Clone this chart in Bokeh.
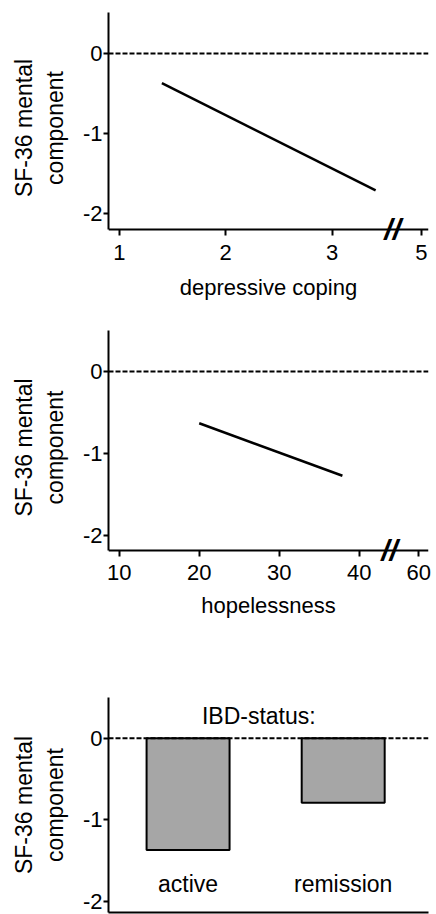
from bokeh.plotting import figure
from bokeh.layouts import column
from bokeh.models import Span, Label, FixedTicker, ColumnDataSource, LinearAxis
from bokeh.embed import file_html
from bokeh.resources import INLINE
from bokeh.core.properties import value

# ---------------- data ----------------
y_ticks = [-2, -1, 0]
y_tick_labels = ["-2", "-1", "0"]
y_label = "SF-36 mental\ncomponent"

coping_ticks = [1, 2, 3, 5]
coping_x = [1.4, 3.41]
coping_y = [-0.37, -1.71]

hope_ticks = [10, 20, 30, 40, 60]
hope_x = [20.0, 37.9]
hope_y = [-0.63, -1.27]

status_title = "IBD-status:"
status = ["active", "remission"]
status_vals = [-1.37, -0.79]

FONT = "Liberation Sans"
TICK_FS = "22px"
LABEL_FS = "22px"


def style_axis(ax):
    ax.axis_line_width = 2
    ax.axis_line_color = "black"
    ax.major_tick_line_width = 2
    ax.major_tick_line_color = "black"
    ax.major_tick_in = 0
    ax.major_tick_out = 6
    ax.minor_tick_line_color = None
    ax.major_label_text_font = FONT
    ax.major_label_text_font_size = TICK_FS
    ax.major_label_text_color = "black"
    ax.axis_label_text_font = FONT
    ax.axis_label_text_font_size = LABEL_FS
    ax.axis_label_text_font_style = "normal"
    ax.axis_label_text_color = "black"


def base_style(p):
    p.background_fill_color = "white"
    p.border_fill_color = "white"
    p.outline_line_color = None
    p.xgrid.visible = False
    p.ygrid.visible = False
    style_axis(p.xaxis[0])
    style_axis(p.yaxis[0])
    p.yaxis[0].ticker = FixedTicker(ticks=y_ticks)
    p.yaxis[0].major_label_overrides = {t: s for t, s in zip(y_ticks, y_tick_labels)}
    p.yaxis[0].major_label_standoff = 1
    p.yaxis[0].major_tick_out = 5
    p.yaxis[0].axis_label = y_label
    p.yaxis[0].axis_label_text_font_size = "23px"
    p.yaxis[0].axis_label_standoff = 12
    p.add_layout(Span(location=0, dimension="width", line_color="black",
                      line_width=2, line_dash="5 2"))


def broken_x_axis(p, ticks, last_pos, y_axis_pos, y_top, brk_x, label,
                  label_standoff, tick_standoff):
    """Axis line + ticks drawn inside the frame at y_axis_pos (so the break
    mark can straddle it); tick labels and title on a second, line-less axis."""
    pos = [float(t) for t in ticks[:-1]] + [last_pos]
    overrides = {pos[i]: str(ticks[i]) for i in range(len(ticks))}
    main = p.xaxis[0]
    main.fixed_location = y_axis_pos
    main.ticker = FixedTicker(ticks=pos)
    main.major_label_text_font_size = "0px"
    main.major_label_text_color = None
    p.yaxis[0].bounds = (y_axis_pos, y_top)

    lab = LinearAxis(ticker=FixedTicker(ticks=pos))
    style_axis(lab)
    lab.axis_line_color = None
    lab.major_tick_line_color = None
    lab.major_tick_out = 0
    lab.major_label_standoff = tick_standoff
    lab.major_label_overrides = overrides
    lab.axis_label = label
    lab.axis_label_standoff = label_standoff
    p.add_layout(lab, "below")

    p.add_layout(Label(x=brk_x, y=y_axis_pos, text="//", text_font=FONT,
                       text_font_size="30px", text_font_style="bold italic",
                       text_align="center", text_baseline="middle",
                       text_color="black"))


# ---------------- panel 1: depressive coping ----------------
p1 = figure(width=436, height=309, x_range=(0.898, 3.907), y_range=(-2.375, 0.5125),
            min_border_left=103, min_border_right=8, min_border_top=12, min_border_bottom=66,
            output_backend="svg", toolbar_location=None)
base_style(p1)
broken_x_axis(p1, coping_ticks, 3.84, -2.2, 0.5125, 3.57, "depressive coping",
              label_standoff=12, tick_standoff=1)
p1.line(coping_x, coping_y, line_color="black", line_width=2.5)

# ---------------- panel 2: hopelessness ----------------
p2 = figure(width=436, height=318, x_range=(8.66, 48.66), y_range=(-2.351, 0.5),
            min_border_left=105, min_border_right=3, min_border_top=21, min_border_bottom=63,
            output_backend="svg", toolbar_location=None)
base_style(p2)
broken_x_axis(p2, hope_ticks, 47.44, -2.18, 0.5, 43.8, "hopelessness",
              label_standoff=10, tick_standoff=0)
p2.line(hope_x, hope_y, line_color="black", line_width=2.5)

# ---------------- panel 3: IBD status ----------------
bar_x = [i + 1 for i in range(len(status))]
src = ColumnDataSource(data=dict(x=bar_x, val=status_vals, name=status,
                                 ly=[-1.79] * len(status)))
p3 = figure(width=436, height=287, x_range=(0.487, 2.55), y_range=(-2.138, 0.5),
            min_border_left=108, min_border_right=0, min_border_top=70, min_border_bottom=2,
            output_backend="svg", toolbar_location=None)
base_style(p3)
p3.xaxis[0].ticker = FixedTicker(ticks=[])
p3.xaxis[0].major_tick_line_color = None
p3.vbar(x="x", top=0, bottom="val", width=0.535, source=src,
        fill_color="#a6a6a6", line_color="black", line_width=2)
p3.text(x="x", y="ly", text="name", source=src, text_font=value(FONT),
        text_font_size="23px", text_align="center", text_baseline="middle",
        text_color="black")
p3.add_layout(Label(x=1.456, y=0.27, text=status_title, text_font=FONT,
                    text_font_size="23px", text_align="center", text_baseline="middle",
                    text_color="black"))

layout = column(p1, p2, p3, spacing=0)
open("out.html", "w").write(file_html(layout, INLINE))
